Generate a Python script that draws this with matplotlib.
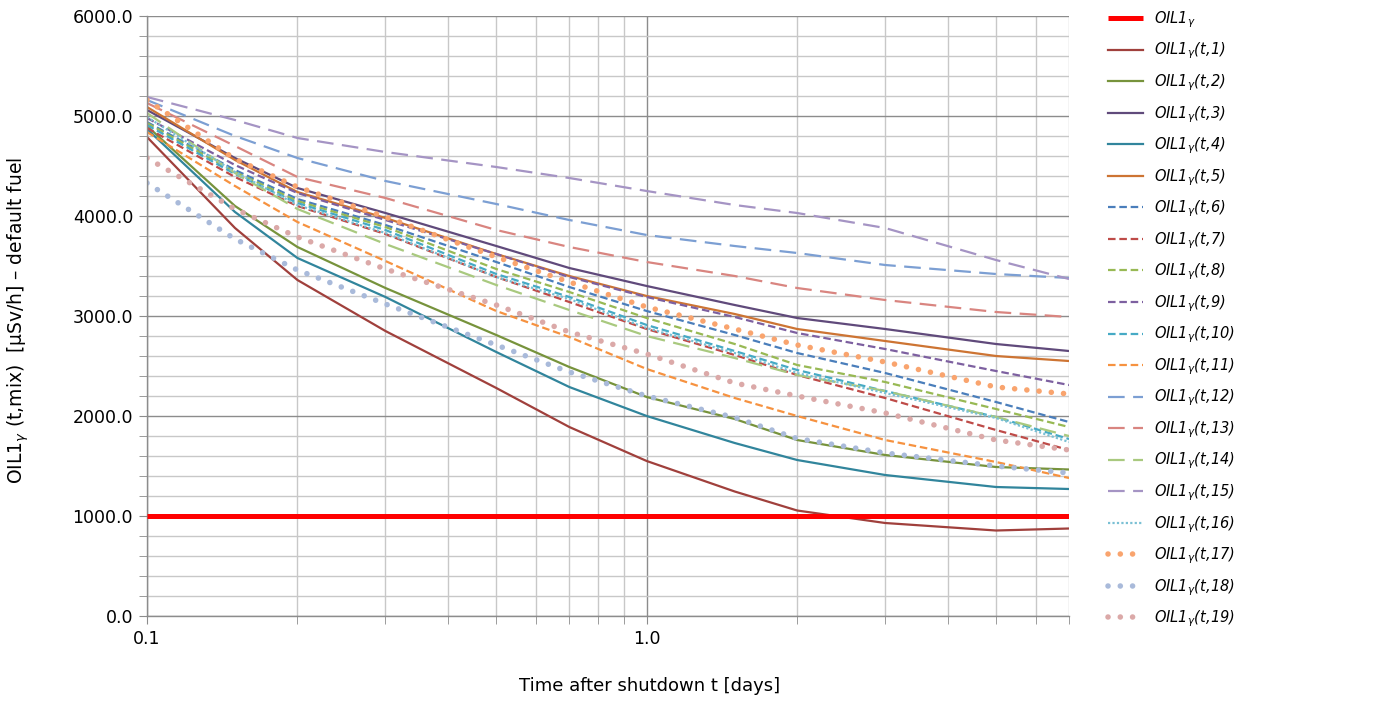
import numpy as np
import matplotlib
matplotlib.use("Agg")
import matplotlib.pyplot as plt

plt.rcParams['font.family'] = ['DejaVu Sans']
plt.rcParams['mathtext.fontset'] = 'dejavusans'

# time after shutdown [days]
t = [0.1, 0.15, 0.2, 0.3, 0.5, 0.7, 1.0, 1.5, 2.0, 3.0, 5.0, 7.0]

# OIL1 gamma threshold
oil1 = 1000.0

# OIL1(t, mix) for the 19 mixes  [uSv/h]
s1 = [4790, 3880, 3360, 2850, 2280, 1890, 1550, 1245, 1055, 930, 855, 875]
s2 = [4900, 4100, 3690, 3280, 2810, 2490, 2190, 1970, 1760, 1610, 1490, 1465]
s3 = [5060, 4580, 4280, 4030, 3700, 3480, 3300, 3110, 2980, 2870, 2720, 2650]
s4 = [4870, 4040, 3580, 3190, 2640, 2290, 2000, 1730, 1560, 1410, 1290, 1270]
s5 = [5090, 4560, 4240, 3980, 3620, 3400, 3200, 3020, 2870, 2750, 2600, 2550]
s6 = [4940, 4460, 4170, 3910, 3540, 3290, 3050, 2810, 2630, 2430, 2140, 1940]
s7 = [4880, 4390, 4100, 3820, 3390, 3140, 2870, 2610, 2410, 2180, 1860, 1660]
s8 = [4930, 4440, 4150, 3890, 3470, 3240, 2980, 2720, 2510, 2340, 2070, 1890]
s9 = [4980, 4510, 4230, 3960, 3620, 3390, 3190, 2990, 2830, 2670, 2450, 2310]
s10 = [4910, 4420, 4130, 3860, 3420, 3190, 2910, 2650, 2460, 2250, 1990, 1770]
s11 = [4840, 4300, 3940, 3550, 3050, 2790, 2470, 2180, 2000, 1760, 1540, 1380]
s12 = [5160, 4800, 4580, 4350, 4120, 3960, 3810, 3700, 3630, 3510, 3420, 3380]
s13 = [5130, 4700, 4390, 4180, 3860, 3690, 3540, 3400, 3280, 3160, 3040, 2990]
s14 = [5030, 4430, 4070, 3720, 3310, 3060, 2800, 2580, 2410, 2250, 1990, 1800]
s15 = [5190, 4960, 4780, 4640, 4490, 4380, 4250, 4110, 4030, 3880, 3560, 3370]
s16 = [4990, 4440, 4110, 3830, 3390, 3170, 2880, 2630, 2430, 2230, 1980, 1740]
s17 = [5160, 4570, 4290, 3990, 3590, 3340, 3090, 2870, 2710, 2540, 2290, 2220]
s18 = [4330, 3770, 3460, 3120, 2710, 2440, 2200, 1985, 1775, 1630, 1500, 1430]
s19 = [4580, 4070, 3790, 3470, 3110, 2840, 2620, 2330, 2200, 2030, 1760, 1660]

series = [s1, s2, s3, s4, s5, s6, s7, s8, s9, s10,
          s11, s12, s13, s14, s15, s16, s17, s18, s19]

colors = ['#A0403C', '#77933C', '#604A7B', '#31859C', '#CD7433',
          '#4A7EBB', '#BE4B48', '#98B954', '#7D60A0', '#46AAC5',
          '#F69240', '#7C9FD3', '#D98580', '#A9C97F', '#A594C4',
          '#7AC0D4', '#F9A46E', '#A9BADA', '#DBA9A8']

short_dash = (0, (3.4, 1.7))
long_dash = (0, (7.5, 3.8))
small_dot = (0, (1, 1))
big_dot = (0, (0.01, 2.2))

styles = ['-'] * 5 + [short_dash] * 6 + [long_dash] * 4 + [small_dot] + [big_dot] * 3

fig = plt.figure(figsize=(14, 7.02), dpi=100)
ax = fig.add_axes([0.105, 0.1225, 0.6586, 0.8547])

ax.plot([0.1, 7.0], [oil1, oil1], color='#FF0000', lw=3.6, solid_capstyle='butt',
        label=r'OIL1$_{\gamma}$', zorder=3)

for i, (s, c, ls) in enumerate(zip(series, colors, styles)):
    if ls == big_dot:
        ax.plot(t, s, color=c, lw=4.0, ls=ls, dash_capstyle='round',
                label=r'OIL1$_{\gamma}$(t,%d)' % (i + 1), zorder=2)
    else:
        ax.plot(t, s, color=c, lw=1.6, ls=ls, dash_capstyle='butt',
                label=r'OIL1$_{\gamma}$(t,%d)' % (i + 1), zorder=2)

ax.set_xscale('log')
ax.set_xlim(0.1, 7.0)
ax.set_ylim(0, 6000)

ax.set_xticks([0.1, 1.0])
ax.set_xticklabels(['0.1', '1.0'])
ax.set_xticks([0.2, 0.3, 0.4, 0.5, 0.6, 0.7, 0.8, 0.9, 2, 3, 4, 5, 6, 7], minor=True)
ax.xaxis.set_minor_formatter(matplotlib.ticker.NullFormatter())
ax.set_yticks(np.arange(0, 6001, 1000))
ax.set_yticklabels(['%.1f' % v for v in np.arange(0, 6001, 1000)])
ax.set_yticks(np.arange(0, 6001, 200), minor=True)

ax.grid(which='major', color='#8C8C8C', lw=1.0)
ax.grid(which='minor', color='#C8C8C8', lw=1.0)
ax.set_axisbelow(True)

for side in ['top', 'right']:
    ax.spines[side].set_visible(False)
for side in ['left', 'bottom']:
    ax.spines[side].set_color('#8C8C8C')
    ax.spines[side].set_linewidth(1.0)

ax.tick_params(which='both', direction='out', color='#8C8C8C', labelsize=12.5,
               labelcolor='black', length=6)
ax.tick_params(axis='x', pad=4)
ax.tick_params(axis='y', pad=4)

ax.set_xlabel('Time after shutdown t [days]', fontsize=13)
ax.xaxis.set_label_coords(0.5455, -0.102)
ax.set_ylabel(r'OIL1$_{\gamma}$ (t,mix)  [µSv/h] – default fuel', fontsize=13.5)
ax.yaxis.set_label_coords(-0.126, 0.493)

fig.legend(loc='upper left', bbox_to_anchor=(0.787, 0.995), frameon=False,
           prop={'style': 'italic', 'size': 10.5}, handlelength=2.4,
           handletextpad=0.8, labelspacing=0.75, borderaxespad=0.0)

fig.savefig('out.png', dpi=100)
